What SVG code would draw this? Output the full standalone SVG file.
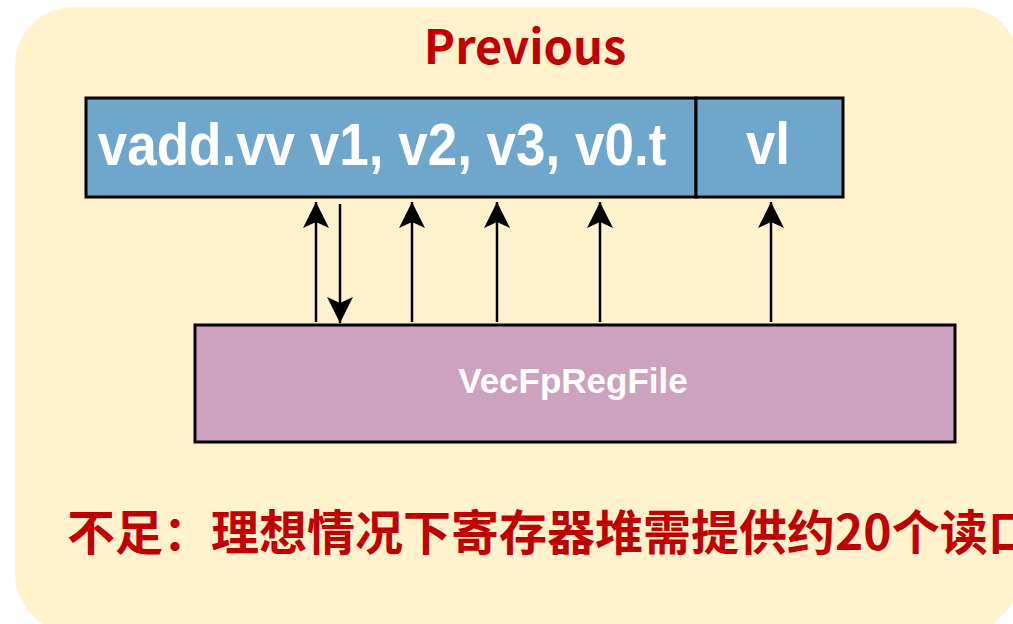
<svg xmlns="http://www.w3.org/2000/svg" width="1013" height="624" viewBox="0 0 1013 624">
<defs>
<style>
.bg{fill:#FFF2CC;stroke:none}
.box{stroke:#000;stroke-width:3}
.blue{fill:#6FA6CB}
.pink{fill:#CDA2BE}
.wt{fill:#fff;font-family:"Liberation Sans",Arial,sans-serif;font-weight:bold;text-anchor:middle}
.red{fill:#C00000;font-family:"Noto Sans CJK SC","Noto Sans",sans-serif;font-weight:bold}
.conn line{stroke:#000;stroke-width:2.5;fill:none;marker-end:url(#ah)}
</style>
<marker id="ah" markerUnits="userSpaceOnUse" viewBox="-28 -14 30 28" refX="0" refY="0" markerWidth="30" markerHeight="28" orient="auto">
<path d="M0,0 L-26,-13 L-20,0 L-26,13 Z" fill="#000"/>
</marker>
</defs>
<rect class="bg" x="15" y="7" width="1005" height="625" rx="58" ry="58"/>
<g id="title"><text class="red" x="525" y="64" font-size="47" text-anchor="middle">Previous</text></g>
<g id="instr">
<rect class="box blue" x="86" y="98" width="610" height="99"/>
<text class="wt" transform="translate(382,165) scale(1,1.1)" font-size="53">vadd.vv v1, v2, v3, v0.t</text>
</g>
<g id="vl">
<rect class="box blue" x="696" y="98" width="147" height="99"/>
<text class="wt" transform="translate(768,164) scale(1,1.1)" font-size="53">vl</text>
</g>
<g id="regfile">
<rect class="box pink" x="195" y="325" width="760" height="117"/>
<text class="wt" x="573" y="393" font-size="35">VecFpRegFile</text>
</g>
<g id="connectors" class="conn">
<line x1="316" y1="322" x2="316" y2="202"/>
<line x1="340" y1="204" x2="340" y2="323"/>
<line x1="412" y1="322" x2="412" y2="202"/>
<line x1="497" y1="322" x2="497" y2="202"/>
<line x1="600" y1="322" x2="600" y2="202"/>
<line x1="771" y1="322" x2="771" y2="202"/>
</g>
<g id="note"><text class="red" x="67" y="550" font-size="48">不足：理想情况下寄存器堆需提供约20个读口</text></g>
</svg>
